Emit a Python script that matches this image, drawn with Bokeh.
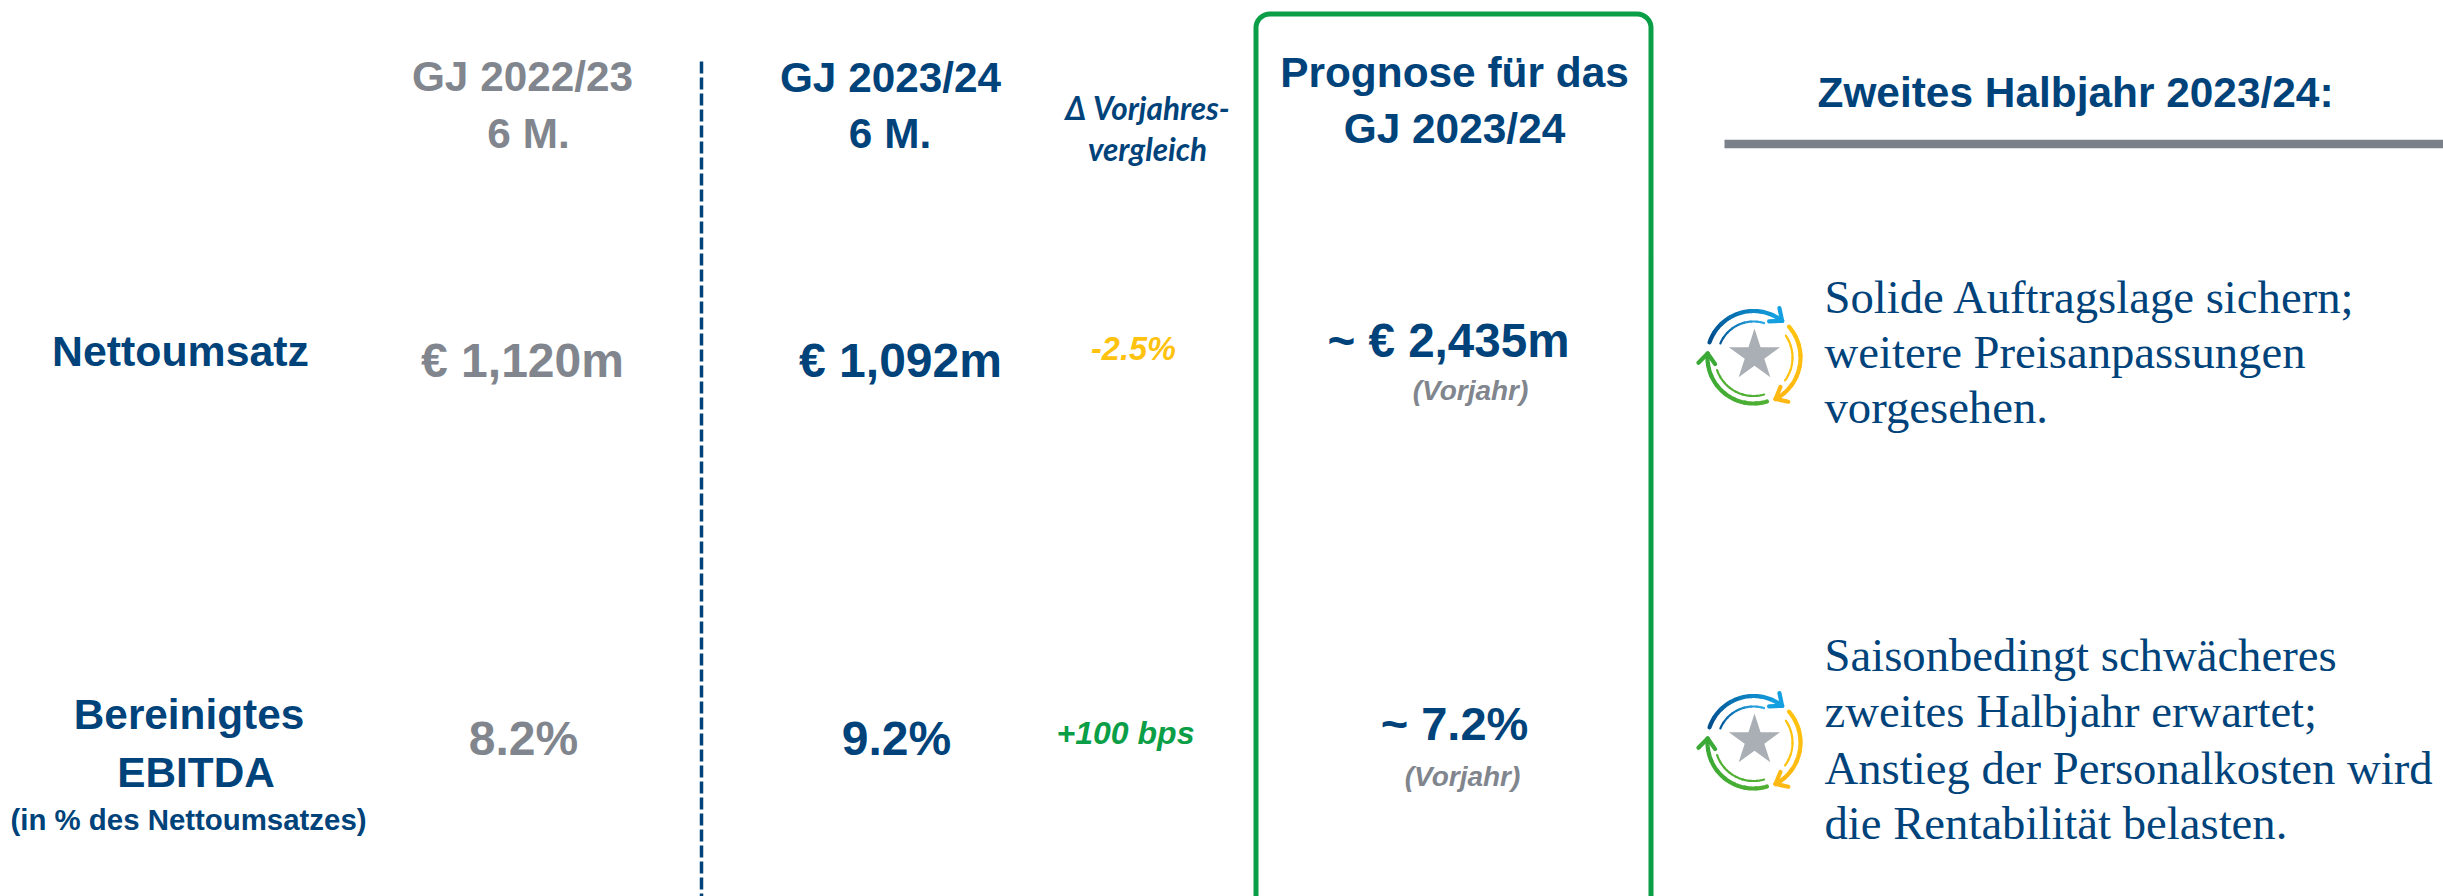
import numpy as np
from bokeh.plotting import figure
from bokeh.core.properties import value
from bokeh.embed import file_html
from bokeh.resources import INLINE

# ---- content ----
period_prev = ["GJ 2022/23", "6 M."]
period_curr = ["GJ 2023/24", "6 M."]
delta_head = ["Δ Vorjahres-", "vergleich"]
forecast_head = ["Prognose für das", "GJ 2023/24"]
half_year_head = "Zweites Halbjahr 2023/24:"
row_sales = "Nettoumsatz"
row_ebitda = ["Bereinigtes", "EBITDA"]
row_ebitda_note = "(in % des Nettoumsatzes)"
sales_values = ["€ 1,120m", "€ 1,092m", "-2.5%", "~ € 2,435m"]
ebitda_values = ["8.2%", "9.2%", "+100 bps", "~ 7.2%"]
prior_year = "(Vorjahr)"
note_sales = ["Solide Auftragslage sichern;", "weitere Preisanpassungen", "vorgesehen."]
note_ebitda = ["Saisonbedingt schwächeres", "zweites Halbjahr erwartet;",
               "Anstieg der Personalkosten wird", "die Rentabilität belasten."]

# ---- styles ----
NAVY, GREY, YELLOW, GREEN = "#00437a", "#81868e", "#ffc20e", "#0a9e46"
ARIAL, SERIF, LATO = "Liberation Sans", "Liberation Serif", "Lato"
BASELINE_SHIFT = 0.36

p = figure(width=2443, height=896, x_range=(0, 2443), y_range=(896, 0),
           x_axis_location=None, y_axis_location=None, toolbar_location=None,
           output_backend="svg", min_border=0, outline_line_color=None,
           background_fill_color="white", border_fill_color="white")
p.grid.visible = False


def label(text, x, y, size, color=NAVY, font=ARIAL, style="bold", align="center"):
    p.text(x=[x], y=[y - BASELINE_SHIFT * size], text=[text], text_font=value(font),
           text_font_size=f"{size}px", text_font_style=style, text_color=color,
           text_align=align, text_baseline="alphabetic")


# dividers and frame
p.line([701, 701], [61, 896], line_color=NAVY, line_width=3.5, line_dash="12 4")
p.quad(left=[1255.5], right=[1650.5], top=[13.5], bottom=[930], fill_color=None,
       line_color=GREEN, line_width=5, border_radius=14)
p.line([1724, 2443], [143.5, 143.5], line_color="#7b8189", line_width=8.5)

# column heads
label(period_prev[0], 522, 91, 42.3, GREY)
label(period_prev[1], 528, 148, 42.3, GREY)
label(period_curr[0], 890, 92, 42.3)
label(period_curr[1], 889.5, 148, 42.3)
label(delta_head[0], 1147, 119, 31.5, font=LATO, style="bold italic")
label(delta_head[1], 1147, 160, 31.5, font=LATO, style="bold italic")
label(forecast_head[0], 1454, 87, 42.4)
label(forecast_head[1], 1454, 143, 42.4)
label(half_year_head, 2075, 107, 42.4)

# row heads
label(row_sales, 180, 366, 42.8)
label(row_ebitda[0], 188.5, 729, 42.3)
label(row_ebitda[1], 195.5, 787, 42.3)
label(row_ebitda_note, 188, 830, 29.4)

# sales row
label(sales_values[0], 522, 377, 48, GREY)
label(sales_values[1], 900, 377, 48)
label(sales_values[2], 1133, 360, 32.5, YELLOW, style="bold italic")
label(sales_values[3], 1448, 357, 47.6)
label(prior_year, 1470, 400, 28, GREY, style="bold italic")

# EBITDA row
label(ebitda_values[0], 523, 755, 48, GREY)
label(ebitda_values[1], 896, 755, 48)
label(ebitda_values[2], 1125, 744, 32, GREEN, style="bold italic")
label(ebitda_values[3], 1454, 740, 47)
label(prior_year, 1462, 786, 28, GREY, style="bold italic")

# notes
for line, y in zip(note_sales, (313, 368, 423)):
    label(line, 1824, y, 46.7, font=SERIF, style="normal", align="left")
for line, y in zip(note_ebitda, (671, 727, 784, 839)):
    label(line, 1824, y, 46.7, font=SERIF, style="normal", align="left")

# ---- cycle icon: radius, start and end angle, width, colours, arrowhead ----
ICON_ARCS = [
    (46.5, 161, 52, 4.2, "#00508f", "#14a0e0", True),
    (36.0, 157, 73, 2.2, "#005a9c", "#2aa8e4", False),
    (47.0, 41, -62, 4.2, "#ffc20e", "#fdb813", True),
    (39.0, 34, -36, 2.2, "#ffc20e", "#ffc20e", False),
    (46.0, -73, -185, 4.2, "#4fb033", "#3aa935", True),
    (38.5, -74, -161, 2.2, "#4fb033", "#4fb033", False),
]


def mix(c0, c1, t):
    a = [int(c0[i:i + 2], 16) for i in (1, 3, 5)]
    b = [int(c1[i:i + 2], 16) for i in (1, 3, 5)]
    return "#%02x%02x%02x" % tuple(round(u + (v - u) * t) for u, v in zip(a, b))


def icon(cx, cy):
    for r, a0, a1, w, c0, c1, arrow in ICON_ARCS:
        n = 8
        edges = np.radians(np.linspace(a0, a1, n + 1))
        for i in range(n):
            t = np.linspace(edges[i], edges[i + 1], 8)
            p.line(cx + r * np.cos(t), cy - r * np.sin(t), line_width=w, line_cap="round",
                   line_color=mix(c0, c1, i / (n - 1)))
        if arrow:
            e = np.radians(a1)
            tx, ty = cx + r * np.cos(e), cy - r * np.sin(e)
            back = np.arctan2(np.cos(e), np.sin(e)) if a1 > a0 else np.arctan2(-np.cos(e), -np.sin(e))
            for d in (0.7, -0.7):
                p.line([tx, tx + 13 * np.cos(back + d)], [ty, ty + 13 * np.sin(back + d)],
                       line_width=w, line_cap="round", line_color=c1)
    p.scatter([cx + 1], [cy - 2], marker="star", size=54, fill_color="#a9afb4", line_color=None)


icon(1753, 357)
icon(1753, 742)

open("out.html", "w").write(file_html(p, INLINE))
